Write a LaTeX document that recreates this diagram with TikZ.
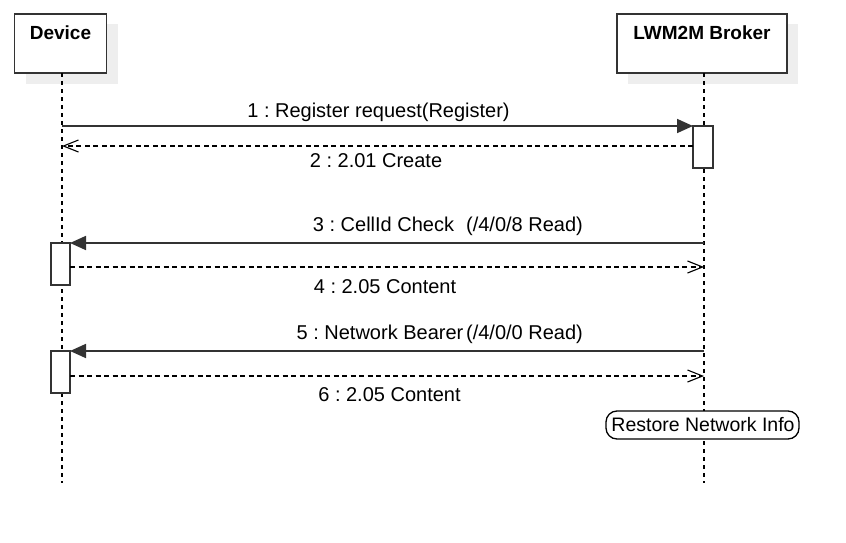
\documentclass[tikz,border=0pt]{standalone}
\usepackage{fontspec}
\setmainfont{Liberation Sans}
\usetikzlibrary{arrows.meta}
\definecolor{ln}{HTML}{333333}
\definecolor{shd}{HTML}{EEEEEE}
\frenchspacing
\begin{document}
\begin{tikzpicture}[x=1pt,y=-1pt,
  every node/.style={inner sep=0pt,outer sep=0pt,font=\fontsize{20pt}{24pt}\selectfont},
  headfont/.style={font=\fontsize{19pt}{23pt}\selectfont\bfseries},
  headbox/.style={draw=ln,line width=1.6pt,fill=white,minimum height=59pt},
  shadowbox/.style={fill=shd,draw=none,minimum height=59pt},
  lifeline/.style={draw=black,line width=1.2pt,dash pattern=on 4pt off 4pt},
  actbox/.style={draw=ln,line width=1.6pt,fill=white,minimum width=19pt,minimum height=42pt},
  msg/.style={draw=ln,line width=1.7pt,-{Triangle[length=16pt,width=14pt]}},
  reply/.style={draw=black,line width=1.1pt,dash pattern=on 5pt off 3.5pt,-{Straight Barb[length=15pt,width=12pt,line width=1.1pt]}},
  lbl/.style={anchor=base},
]
\useasboundingbox[fill=white] (0,0) rectangle (846,543);
% shadows
\node[shadowbox,minimum width=92pt] (devshd) at (71.5,54) {};
\node[shadowbox,minimum width=170pt] (brkshd) at (713,54) {};
% heads
\node[headbox,minimum width=92pt] (dev) at (60.5,43.5) {};
\node[headbox,minimum width=170pt] (brk) at (702,43.5) {};
\node[lbl,headfont] (devlbl) at (60.5,39.5) {Device};
\node[lbl,headfont] (brklbl) at (702,39.5) {LWM2M Broker};
% lifelines
\coordinate (devtop) at (62,73);
\coordinate (devend) at (62,483);
\coordinate (brktop) at (704,73);
\coordinate (brkend) at (704,483);
\draw[lifeline] (devtop) -- (devend);
\draw[lifeline] (brktop) -- (brkend);
% activations
\node[actbox,minimum width=20pt] (act1) at (703,147) {};
\node[actbox] (act2) at (60.5,264) {};
\node[actbox] (act3) at (60.5,372) {};
% messages
\coordinate (d1) at (62,126);
\draw[msg] (d1) -- (act1.north west);
\coordinate (b2) at (693,146);
\coordinate (d2) at (62,146);
\draw[reply] (b2) -- (d2);
\coordinate (b3) at (704,243);
\draw[msg] (b3) -- (act2.north east);
\coordinate (a4) at (70,267);
\coordinate (b4) at (704,267);
\draw[reply] (a4) -- (b4);
\coordinate (b5) at (704,351);
\draw[msg] (b5) -- (act3.north east);
\coordinate (a6) at (70,376);
\coordinate (b6) at (704,376);
\draw[reply] (a6) -- (b6);
% labels
\node[lbl] (l1) at (378.5,117) {1 : Register request(Register)};
\node[lbl] (l2) at (376,167.5) {2 : 2.01 Create};
\node[lbl] (l3) at (383.5,231) {3 : CellId Check};
\node[lbl] (l3b) at (524.5,231) {(/4/0/8 Read)};
\node[lbl] (l5) at (380,339) {5 : Network Bearer};
\node[lbl] (l4) at (385,293) {4 : 2.05 Content};
\node[lbl] (l5b) at (524.5,339) {(/4/0/0 Read)};
\node[lbl] (l6) at (389.5,401) {6 : 2.05 Content};
% restore state
\node[draw=black,line width=1.3pt,fill=white,rounded corners=11pt,minimum width=193pt,minimum height=28pt] (rst) at (702.5,425) {};
\node[lbl,font=\fontsize{19.5pt}{23pt}\selectfont] (rstlbl) at (703,431) {Restore Network Info};
\end{tikzpicture}
\end{document}
